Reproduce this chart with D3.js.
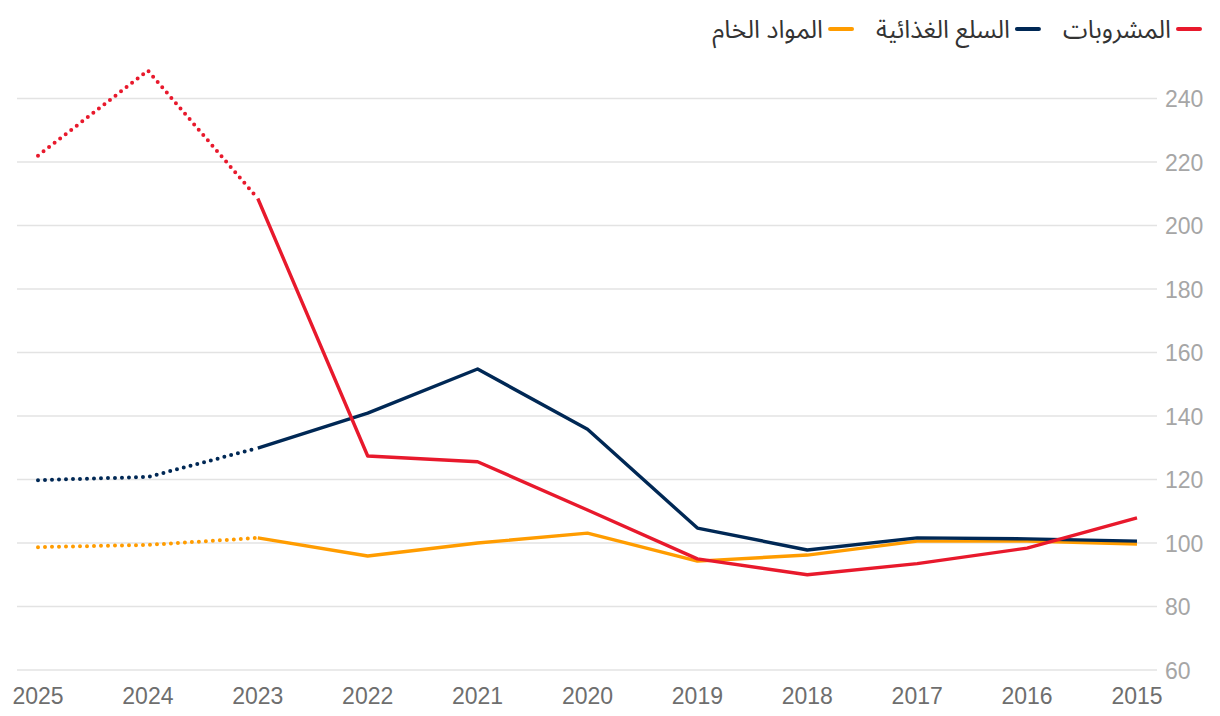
<!DOCTYPE html>
<html>
<head>
<meta charset="utf-8">
<script src="https://cdn.jsdelivr.net/npm/d3@7"></script>
<style>
    body { margin: 0; background: #fff; }
    svg { display: block; }
</style>
</head>
<body>
<svg id="chart" width="1220" height="716"></svg>
<script>
    const years = [2025, 2024, 2023, 2022, 2021, 2020, 2019, 2018, 2017, 2016, 2015];
    // last year that is a forecast (dotted up to here)
    const forecastUntil = 2023;

    const beverages = [222, 248.8, 208.5, 127.4, 125.6, 110.4, 95, 90, 93.5, 98.4, 107.9];
    const food = [119.8, 120.8, 129.9, 140.9, 154.8, 135.8, 104.7, 97.8, 101.6, 101.3, 100.6];
    const rawMaterials = [98.7, 99.4, 101.6, 95.9, 100, 103.1, 94.3, 96.2, 100.6, 100.6, 99.7];

    const yTicks = [60, 80, 100, 120, 140, 160, 180, 200, 220, 240];

    const seriesNames = ["المشروبات", "السلع الغذائية", "المواد الخام"];
    const seriesColors = ["#e8192c", "#002855", "#ff9c00"];
    const seriesValues = [beverages, food, rawMaterials];

    const svg = d3.select("#chart");

    const x = d3.scaleLinear().domain([2025, 2015]).range([38, 1137]);
    const y = d3.scaleLinear().domain([60, 240]).range([670, 98.5]);

    // gridlines + right axis labels
    const grid = svg.append("g");
    grid.selectAll("line")
        .data(yTicks)
        .enter()
        .append("line")
        .attr("x1", 17)
        .attr("x2", 1157)
        .attr("y1", d => y(d))
        .attr("y2", d => y(d))
        .attr("stroke", "#e3e3e3")
        .attr("stroke-width", 1.5);

    grid.selectAll("text")
        .data(yTicks)
        .enter()
        .append("text")
        .attr("x", 1165)
        .attr("y", d => y(d) + 8.5)
        .attr("font-family", "'Liberation Sans', Arial, sans-serif")
        .attr("font-size", 23)
        .attr("fill", "#a6a6a6")
        .text(d => d);

    // x axis labels
    svg.append("g")
        .selectAll("text")
        .data(years)
        .enter()
        .append("text")
        .attr("x", d => x(d))
        .attr("y", 704)
        .attr("text-anchor", "middle")
        .attr("font-family", "'Liberation Sans', Arial, sans-serif")
        .attr("font-size", 23)
        .attr("fill", "#6e6e6e")
        .text(d => d);

    const line = d3.line()
        .x(d => x(d.year))
        .y(d => y(d.value));

    // draw order: raw materials, food, beverages on top
    [2, 1, 0].forEach(i => {
        const pts = years.map((yr, j) => ({year: yr, value: seriesValues[i][j]}));
        const forecast = pts.filter(p => p.year >= forecastUntil);
        const actual = pts.filter(p => p.year <= forecastUntil);

        svg.append("path")
            .datum(actual)
            .attr("d", line)
            .attr("fill", "none")
            .attr("stroke", seriesColors[i])
            .attr("stroke-width", 3.4)
            .attr("stroke-linejoin", "round");

        svg.append("path")
            .datum(forecast)
            .attr("d", line)
            .attr("fill", "none")
            .attr("stroke", seriesColors[i])
            .attr("stroke-width", 4)
            .attr("stroke-linecap", "round")
            .attr("stroke-dasharray", "0,7");
    });

    // legend, laid out right to left
    const legend = svg.append("g");
    let cursor = 1200;
    seriesNames.forEach((name, i) => {
        legend.append("line")
            .attr("x1", cursor - 22)
            .attr("x2", cursor)
            .attr("y1", 29)
            .attr("y2", 29)
            .attr("stroke", seriesColors[i])
            .attr("stroke-width", 4)
            .attr("stroke-linecap", "round");
        const t = legend.append("text")
            .attr("x", cursor - 29)
            .attr("y", 38)
            .attr("text-anchor", "end")
            .attr("font-family", "'Noto Sans Arabic', 'Noto Sans', 'DejaVu Sans', sans-serif")
            .attr("font-size", 25)
            .attr("fill", "#333")
            .text(name);
        const w = t.node().getComputedTextLength();
        cursor = cursor - 29 - w - 24;
    });
</script>
</body>
</html>
